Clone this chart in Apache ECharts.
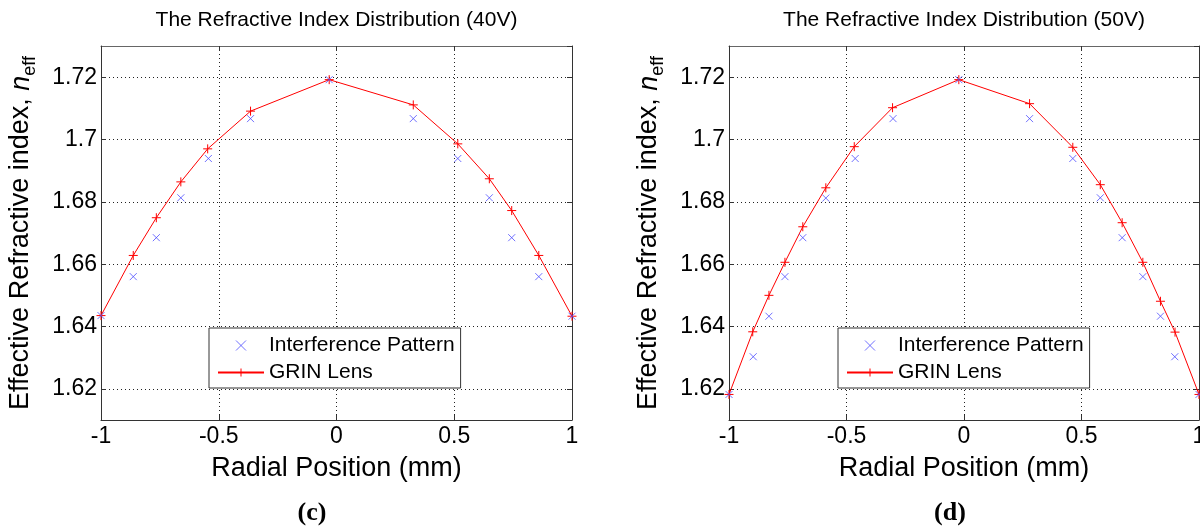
<!DOCTYPE html>
<html>
<head>
<meta charset="utf-8">
<script src="https://cdn.jsdelivr.net/npm/echarts@6/dist/echarts.min.js"></script>
<style>
  html, body { margin: 0; padding: 0; background: #fff; }
  #chart { width: 1200px; height: 526px; }
</style>
</head>
<body>
<div id="chart"></div>
<script>
// (c) 40V
const grin40X = [-1, -0.863, -0.765, -0.661, -0.547, -0.365, -0.031, 0.326, 0.515, 0.649, 0.744, 0.859, 1];
const grin40Y = [1.6435, 1.6628, 1.6749, 1.6864, 1.6970, 1.7091, 1.7192, 1.7111, 1.6986, 1.6874, 1.6772, 1.6628, 1.6433];
const interf40X = [-1, -0.863, -0.765, -0.661, -0.544, -0.365, -0.031, 0.326, 0.515, 0.649, 0.744, 0.859, 1];
const interf40Y = [1.6435, 1.6560, 1.6685, 1.6813, 1.6939, 1.7067, 1.7192, 1.7067, 1.6939, 1.6813, 1.6685, 1.6560, 1.6433];

// (d) 50V
const grin50X = [-1, -0.899, -0.830, -0.762, -0.686, -0.588, -0.467, -0.304, -0.022, 0.279, 0.463, 0.580, 0.673, 0.761, 0.836, 0.898, 1];
const grin50Y = [1.6182, 1.6383, 1.6500, 1.6606, 1.6720, 1.6845, 1.6977, 1.7102, 1.7192, 1.7115, 1.6975, 1.6855, 1.6733, 1.6606, 1.6481, 1.6382, 1.6182];
const interf50X = [-1, -0.897, -0.830, -0.762, -0.686, -0.588, -0.463, -0.302, -0.022, 0.279, 0.463, 0.580, 0.673, 0.761, 0.836, 0.897, 1];
const interf50Y = [1.6182, 1.6303, 1.6433, 1.6560, 1.6685, 1.6812, 1.6939, 1.7067, 1.7192, 1.7067, 1.6939, 1.6813, 1.6685, 1.6560, 1.6433, 1.6303, 1.6182];

const titles = ['The Refractive Index Distribution (40V)', 'The Refractive Index Distribution (50V)'];
const captions = ['(c)', '(d)'];
const seriesNames = ['Interference Pattern', 'GRIN Lens'];

const FONT = '"Liberation Sans", Arial, sans-serif';
const X_MARK = 'path://M0,0L10,10M10,0L0,10';
const PLUS_MARK = 'path://M5,0L5,10M0,5L10,5';

const zip = (xs, ys) => xs.map((x, i) => [x, ys[i]]);

const grids = [
  { left: 101, top: 46, width: 471, height: 374, outerBoundsMode: 'none' },
  { left: 729, top: 46, width: 470, height: 374, outerBoundsMode: 'none' },
];

const gridLine = { show: true, lineStyle: { color: '#222', type: [1, 3], width: 1 } };
const tick = { inside: true, length: 5, lineStyle: { color: '#333' } };

const xAxes = [];
const yAxes = [];
grids.forEach((g, i) => {
  // bottom / left axes carry labels, top / right just close the box with ticks
  xAxes.push({
    gridIndex: i, type: 'value', min: -1, max: 1, interval: 0.5,
    name: 'Radial Position (mm)', nameLocation: 'middle', nameGap: 35,
    nameTextStyle: { fontFamily: FONT, fontSize: 27, color: '#000' },
    axisLine: { onZero: false, lineStyle: { color: '#333', width: 1 } },
    axisTick: tick,
    axisLabel: {
      fontFamily: FONT, fontSize: 23, color: '#000', margin: 5,
      alignMinLabel: 'center', alignMaxLabel: 'center', hideOverlap: false,
    },
    splitLine: gridLine,
  });
  xAxes.push({
    gridIndex: i, type: 'value', min: -1, max: 1, interval: 0.5, position: 'top',
    axisLine: { onZero: false, lineStyle: { color: '#666', width: 1 } },
    axisTick: tick,
    axisLabel: { show: false },
    splitLine: { show: false },
  });
  yAxes.push({
    gridIndex: i, type: 'value', min: 1.61, max: 1.73, splitNumber: 6,
    name: 'Effective Refractive index, {it|n}{sub|eff}', nameLocation: 'middle', nameGap: 62,
    nameTextStyle: {
      fontFamily: FONT, fontSize: 27, color: '#000', lineHeight: 36,
      rich: {
        it: { fontFamily: FONT, fontSize: 27, fontStyle: 'italic', color: '#000', lineHeight: 36 },
        sub: { fontFamily: FONT, fontSize: 18, color: '#000', lineHeight: 18, verticalAlign: 'bottom' },
      },
    },
    axisLine: { onZero: false, lineStyle: { color: '#333', width: 1 } },
    axisTick: tick,
    axisLabel: { fontFamily: FONT, fontSize: 23, color: '#000', margin: 4, showMinLabel: false, showMaxLabel: false },
    splitLine: gridLine,
  });
  yAxes.push({
    gridIndex: i, type: 'value', min: 1.61, max: 1.73, splitNumber: 6, position: 'right',
    axisLine: { onZero: false, lineStyle: { color: '#333', width: 1 } },
    axisTick: tick,
    axisLabel: { show: false },
    splitLine: { show: false },
  });
});

function plotSeries(i, ix, iy, gx, gy) {
  return [
    {
      name: seriesNames[0], type: 'scatter', xAxisIndex: 2 * i, yAxisIndex: 2 * i,
      data: zip(ix, iy), symbol: X_MARK, symbolSize: 7, symbolKeepAspect: true,
      itemStyle: { color: '#4d4dff', borderColor: '#4d4dff', borderWidth: 1 },
      z: 3,
    },
    {
      name: seriesNames[1], type: 'line', xAxisIndex: 2 * i, yAxisIndex: 2 * i,
      data: zip(gx, gy), symbol: PLUS_MARK, symbolSize: 9, showAllSymbol: true,
      lineStyle: { color: '#ff0000', width: 1 },
      itemStyle: { color: '#ff0000', borderColor: '#ff0000', borderWidth: 1 },
      z: 2,
    },
  ];
}

const legendLefts = [209, 838];

const option = {
  animation: false,
  backgroundColor: '#fff',
  title: [
    ...titles.map((t, i) => ({
      text: t, left: grids[i].left + grids[i].width / 2, top: 10, textAlign: 'center', padding: 0,
      textStyle: { fontFamily: FONT, fontSize: 21, fontWeight: 'normal', color: '#000' },
    })),
    ...captions.map((c, i) => ({
      text: c, left: [312, 950][i], top: 500, textAlign: 'center', padding: 0,
      textStyle: { fontFamily: '"Liberation Serif", "Times New Roman", serif', fontSize: 26, fontWeight: 'bold', color: '#000' },
    })),
  ],
  legend: legendLefts.map((l) => ({
    data: seriesNames,
    orient: 'vertical',
    left: l, top: 328,
    padding: [7, 6, 5, 8],
    itemGap: 6,
    itemWidth: 46, itemHeight: 10,
    backgroundColor: '#fff',
    borderColor: '#333', borderWidth: 1, borderRadius: 0,
    itemStyle: { borderWidth: 1 },
    textStyle: { fontFamily: FONT, fontSize: 21, color: '#000' },
    selectedMode: false,
  })),
  grid: grids,
  xAxis: xAxes,
  yAxis: yAxes,
  series: [
    ...plotSeries(0, interf40X, interf40Y, grin40X, grin40Y),
    ...plotSeries(1, interf50X, interf50Y, grin50X, grin50Y),
  ],
};

const chart = echarts.init(document.getElementById('chart'), null, { renderer: 'canvas' });
chart.setOption(option);
</script>
</body>
</html>
